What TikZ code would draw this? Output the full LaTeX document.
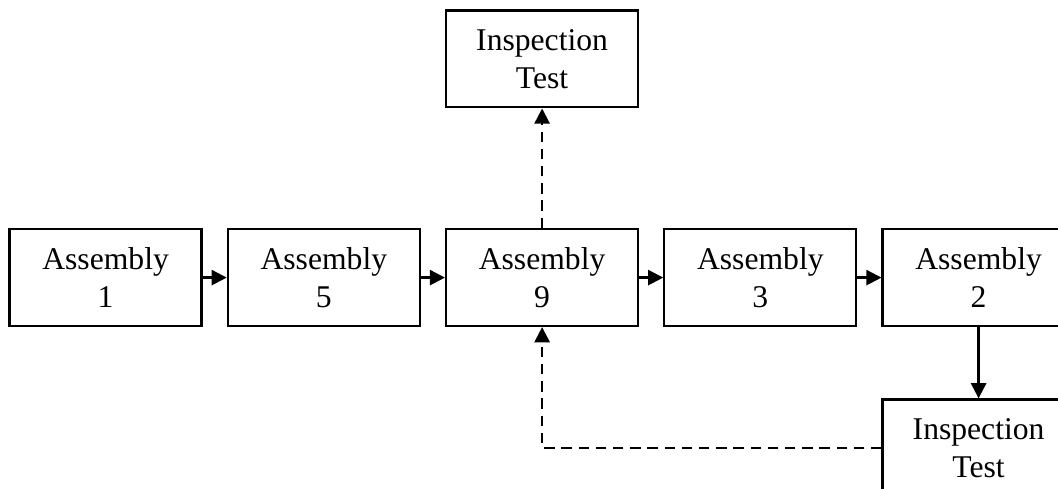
\documentclass[tikz,border=0pt]{standalone}
\usepackage{fontspec}
\setmainfont{Liberation Serif}
\usetikzlibrary{arrows.meta, positioning}

\begin{document}
\begin{tikzpicture}[
  font=\fontsize{22.5}{27}\selectfont,
  every node/.style={align=center},
  asm/.style={draw, line width=1.6pt, minimum width=4.8cm,
              minimum height=2.42cm, inner sep=0pt},
  arr/.style={-{Triangle[length=0.38cm, width=0.38cm]}, line width=1.6pt},
  darr/.style={arr, dash pattern=on 0.26cm off 0.17cm}
]
\useasboundingbox (0,0) rectangle (26.45,12.2);
\clip (0,0) rectangle (26.45,12.2);
\node[asm] (a1) at (2.64,5.26) {Assembly\\1};
\node[asm, right=0.6cm of a1] (a5) {Assembly\\5};
\node[asm, right=0.6cm of a5] (a9) {Assembly\\9};
\node[asm, right=0.6cm of a9] (a3) {Assembly\\3};
\node[asm, right=0.6cm of a3] (a2) {Assembly\\2};
\node[asm, above=2.99cm of a9] (insptop) {Inspection\\Test};
\node[asm, below=1.78cm of a2] (inspbot) {Inspection\\Test};

\draw[arr] (a1) -- (a5);
\draw[arr] (a5) -- (a9);
\draw[arr] (a9) -- (a3);
\draw[arr] (a3) -- (a2);
\draw[arr] (a2) -- (inspbot);
\draw[darr] (a9) -- (insptop);
\draw[darr] (inspbot.west) -| (a9.south);
\end{tikzpicture}
\end{document}
